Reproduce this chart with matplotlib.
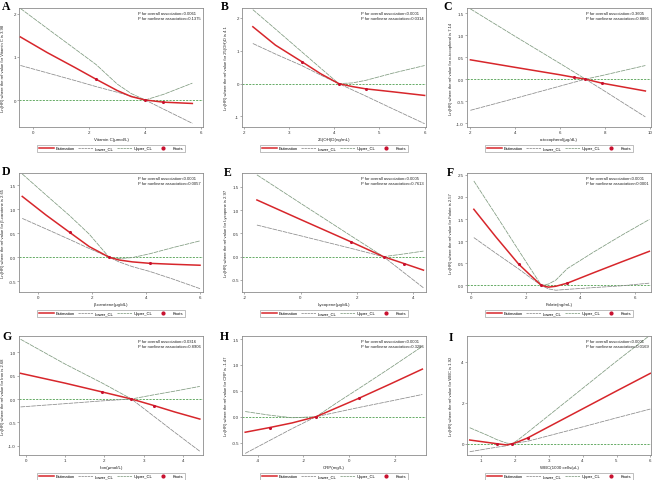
import matplotlib
matplotlib.use("Agg")
from matplotlib import pyplot as plt
from matplotlib.lines import Line2D

plt.rcParams['font.family'] = ['Liberation Sans', 'DejaVu Sans']
plt.rcParams['axes.unicode_minus'] = False

# colours used by every panel
EST_COLOR = "#d7262b"
KNOT_COLOR = "#c8102e"
LOW_COLOR = "#8a8a8a"
UP_COLOR = "#7f9a7f"
REF_COLOR = "#4f9f4f"

# ---- A : Vitamin C ----
a_x = [-0.45, 0.5, 1.5, 2.25, 3.0, 3.5, 4.0, 4.65, 5.68]
a_est = [1.46, 1.10, 0.75, 0.48, 0.22, 0.08, 0.0, -0.05, -0.08]
a_low = [0.80, 0.63, 0.45, 0.31, 0.18, 0.09, 0.0, -0.21, -0.54]
a_up = [2.12, 1.66, 1.18, 0.82, 0.37, 0.15, 0.0, 0.13, 0.39]
a_knot_x = [2.25, 4.0, 4.65]
a_knot_y = [0.48, 0.0, -0.05]

# ---- B : 25(OH)D ----
b_x = [2.2, 2.7, 3.28, 3.7, 4.1, 4.4, 4.7, 5.3, 6.0]
b_est = [1.73, 1.17, 0.67, 0.30, 0.0, -0.09, -0.16, -0.25, -0.36]
b_low = [1.22, 0.90, 0.55, 0.26, 0.0, -0.19, -0.38, -0.77, -1.22]
b_up = [2.25, 1.66, 0.97, 0.47, 0.0, 0.02, 0.10, 0.32, 0.55]
b_knot_x = [3.28, 4.1, 4.7]
b_knot_y = [0.67, 0.0, -0.16]

# ---- C : alpha-tocopherol ----
c_x = [2.03, 4.0, 6.0, 6.64, 7.14, 7.86, 9.8]
c_est = [0.44, 0.27, 0.10, 0.04, 0.0, -0.09, -0.27]
c_low = [-0.71, -0.44, -0.16, -0.07, 0.0, -0.23, -0.86]
c_up = [1.60, 0.98, 0.36, 0.16, 0.0, 0.08, 0.31]
c_knot_x = [6.64, 7.14, 7.86]
c_knot_y = [0.04, 0.0, -0.09]

# ---- D : beta-carotene ----
d_x = [-0.58, 0.3, 1.17, 1.9, 2.63, 3.0, 3.5, 4.14, 5.0, 6.0]
d_est = [1.27, 0.88, 0.52, 0.22, 0.0, -0.06, -0.10, -0.13, -0.15, -0.17]
d_low = [0.81, 0.59, 0.37, 0.18, 0.0, -0.10, -0.20, -0.30, -0.46, -0.66]
d_up = [1.74, 1.30, 0.87, 0.48, 0.0, -0.03, -0.01, 0.07, 0.20, 0.34]
d_knot_x = [1.17, 2.63, 4.14]
d_knot_y = [0.52, 0.0, -0.13]

# ---- E : Lycopene ----
e_x = [-1.55, 0.0, 1.79, 2.95, 3.69, 4.37]
e_est = [1.22, 0.80, 0.32, 0.0, -0.15, -0.29]
e_low = [0.68, 0.45, 0.18, 0.0, -0.35, -0.67]
e_up = [1.76, 1.15, 0.45, 0.0, 0.06, 0.12]
e_knot_x = [1.79, 2.95, 3.69]
e_knot_y = [0.32, 0.0, -0.15]

# ---- F : Folate ----
f_x = [0.1, 0.9, 1.74, 2.2, 2.57, 2.83, 3.1, 3.52, 4.5, 5.5, 6.52]
f_est = [1.72, 1.10, 0.48, 0.21, 0.0, -0.04, -0.02, 0.05, 0.29, 0.53, 0.77]
f_low = [1.08, 0.73, 0.37, 0.16, 0.0, -0.08, -0.11, -0.09, -0.05, -0.01, 0.05]
f_up = [2.36, 1.60, 0.79, 0.35, 0.0, 0.03, 0.12, 0.38, 0.76, 1.13, 1.49]
f_knot_x = [1.74, 2.57, 3.52]
f_knot_y = [0.48, 0.0, 0.05]

# ---- G : Iron ----
g_x = [-0.13, 1.0, 1.95, 2.69, 3.26, 3.8, 4.43]
g_est = [0.55, 0.34, 0.15, 0.0, -0.14, -0.28, -0.43]
g_low = [-0.17, -0.10, -0.04, 0.0, -0.37, -0.72, -1.12]
g_up = [1.28, 0.75, 0.34, 0.0, 0.09, 0.17, 0.27]
g_knot_x = [1.95, 2.69, 3.26]
g_knot_y = [0.15, 0.0, -0.14]

# ---- H : CRP ----
h_x = [-4.56, -3.49, -2.5, -1.45, -0.5, 0.45, 1.8, 3.22]
h_est = [-0.30, -0.21, -0.12, 0.0, 0.18, 0.36, 0.63, 0.92]
h_low = [-0.71, -0.46, -0.23, 0.0, 0.09, 0.18, 0.30, 0.43]
h_up = [0.10, 0.03, -0.02, 0.0, 0.28, 0.55, 0.94, 1.36]
h_knot_x = [-3.49, -1.45, 0.45]
h_knot_y = [-0.21, 0.0, 0.36]

# ---- I : WBC ----
i_x = [0.66, 1.2, 1.46, 1.75, 1.92, 2.1, 2.37, 3.0, 4.0, 5.0, 6.0]
i_est = [0.18, 0.06, 0.0, -0.06, 0.0, 0.10, 0.28, 0.83, 1.70, 2.57, 3.43]
i_low = [-0.39, -0.24, -0.17, -0.10, 0.0, 0.05, 0.12, 0.39, 0.82, 1.26, 1.69]
i_up = [0.78, 0.40, 0.20, 0.03, 0.0, 0.20, 0.55, 1.38, 2.70, 4.02, 5.30]
i_knot_x = [1.46, 1.92, 2.37]
i_knot_y = [0.0, 0.0, 0.28]

# axis labels and annotation texts
x_labels = ["Vitamin C(\u03bcmol/L)", "25(OH)D(ng/mL)", "\u03b1-tocopherol(\u03bcg/dL)",
            "\u03b2-carotene(\u03bcg/dL)", "Lycopene(\u03bcg/dL)", "Folate(ng/mL)",
            "Iron(\u03bcmol/L)", "CRP(mg/L)", "WBC(1000 cells/\u03bcL)"]
y_labels = ["Ln(HR) where the ref value for Vitamin C is 3.98",
            "Ln(HR) where the ref value for 25(OH)D is 4.1",
            "Ln(HR) where the ref value for \u03b1-tocopherol is 7.14",
            "Ln(HR) where the ref value for \u03b2-carotene is 2.65",
            "Ln(HR) where the ref value for Lycopene is 2.97",
            "Ln(HR) where the ref value for Folate is 2.57",
            "Ln(HR) where the ref value for Iron is 2.68",
            "Ln(HR) where the ref value for CRP is -1.47",
            "Ln(HR) where the ref value for WBC is 1.92"]
p_overall = ["=0.0061", "<0.0001", "=0.3605", "<0.0001", "=0.0005",
             "<0.0001", "=0.0316", "<0.0001", "<0.0001"]
p_nonlinear = ["=0.1375", "=0.0314", "=0.8866", "=0.0057", "=0.7613",
               "<0.0001", "=0.8906", "=0.3286", "=0.0169"]
panel_letters = ["A", "B", "C", "D", "E", "F", "G", "H", "I"]

# tick positions per panel
x_ticks = [[0, 2, 4, 6], [2, 3, 4, 5, 6], [2, 4, 6, 8, 10],
           [0, 2, 4, 6], [-2, 0, 2, 4], [0, 2, 4, 6],
           [0, 1, 2, 3, 4], [-4, -2, 0, 2], [1, 2, 3, 4, 5, 6]]
y_ticks = [[0, 1, 2], [-1, 0, 1, 2], [-1.0, -0.5, 0.0, 0.5, 1.0, 1.5],
           [-0.5, 0.0, 0.5, 1.0, 1.5], [-0.5, 0.0, 0.5, 1.0, 1.5],
           [0.0, 0.5, 1.0, 1.5, 2.0, 2.5], [-1.0, -0.5, 0.0, 0.5, 1.0],
           [-0.5, 0.0, 0.5, 1.0, 1.5], [0, 2, 4]]
y_decimals = [0, 0, 1, 1, 1, 1, 1, 1, 0]

# layout (pixels of the 653x481 canvas)
FIG_W, FIG_H = 653, 481
AX_LEFT = [19, 242, 467]
AX_WIDTH = 184
AX_TOP = [9, 174, 337]
AX_HEIGHT = 119
X_LIMITS = [(-0.5, 6.06), (1.96, 6.03), (1.88, 10.05), (-0.70, 6.11), (-2.08, 4.46),
            (-0.15, 6.58), (-0.17, 4.51), (-4.7, 3.38), (0.58, 6.02)]
Y_LIMITS = [(-0.625, 2.13), (-1.32, 2.3), (-1.09, 1.62), (-0.73, 1.76), (-0.76, 1.8),
            (-0.15, 2.54), (-1.2, 1.35), (-0.74, 1.56), (-0.55, 5.25)]
LETTER_POS = [(2, 1), (221, 1), (443, 1), (2, 166), (224, 167), (447, 167),
              (2, 331), (220, 331), (449, 332)]

curves = [
    (a_x, a_est, a_low, a_up, a_knot_x, a_knot_y),
    (b_x, b_est, b_low, b_up, b_knot_x, b_knot_y),
    (c_x, c_est, c_low, c_up, c_knot_x, c_knot_y),
    (d_x, d_est, d_low, d_up, d_knot_x, d_knot_y),
    (e_x, e_est, e_low, e_up, e_knot_x, e_knot_y),
    (f_x, f_est, f_low, f_up, f_knot_x, f_knot_y),
    (g_x, g_est, g_low, g_up, g_knot_x, g_knot_y),
    (h_x, h_est, h_low, h_up, h_knot_x, h_knot_y),
    (i_x, i_est, i_low, i_up, i_knot_x, i_knot_y),
]


def drawPanel(fig, idx):
    """
    Draw one restricted cubic spline panel of the 3x3 grid

    Parameters
    --------------------------------------------------------------------------------
        fig : matplotlib Figure
            The figure to draw into
        idx : int
            Panel number 0..8 (row major)
    """
    row, col = divmod(idx, 3)
    left = AX_LEFT[col] / FIG_W
    bottom = 1 - (AX_TOP[row] + AX_HEIGHT) / FIG_H
    ax = fig.add_axes([left, bottom, AX_WIDTH / FIG_W, AX_HEIGHT / FIG_H])

    x, est, low, up, kx, ky = curves[idx]

    # reference line at Ln(HR)=0
    ax.axhline(0, color=REF_COLOR, lw=0.6, ls=(0, (2.5, 1.5)), zorder=1)

    # confidence limits and the estimate
    ax.plot(x, low, color=LOW_COLOR, lw=0.55, ls=(0, (6, 1)), zorder=2)
    ax.plot(x, up, color=UP_COLOR, lw=0.55, ls=(0, (6, 1)), zorder=2)
    ax.plot(x, est, color=EST_COLOR, lw=1.1, zorder=3)
    ax.scatter(kx, ky, s=5, color=KNOT_COLOR, zorder=4, linewidths=0)

    ax.set_xlim(X_LIMITS[idx])
    ax.set_ylim(Y_LIMITS[idx])
    ax.set_xticks(x_ticks[idx])
    ax.set_yticks(y_ticks[idx])
    fmt = "{:.%df}" % y_decimals[idx]
    ax.set_yticklabels([fmt.format(v) for v in y_ticks[idx]])

    for spine in ax.spines.values():
        spine.set_color("#8c8c8c")
        spine.set_linewidth(0.6)
    ax.tick_params(length=1.5, width=0.5, color="#8c8c8c", pad=0.8,
                   labelsize=3.2, labelcolor="#333333")

    ax.set_xlabel(x_labels[idx], fontsize=3.2, color="#222222")
    ax.set_ylabel(y_labels[idx], fontsize=3.0, color="#222222")
    ax.xaxis.set_label_coords(0.5, -0.08)
    ax.yaxis.set_label_coords(-0.075, 0.5)

    # p-values, top right
    ax.text(0.645, 0.975, "P for overall association" + p_overall[idx] +
            "\nP for nonlinear association" + p_nonlinear[idx],
            transform=ax.transAxes, ha="left", va="top", fontsize=3.0,
            linespacing=1.25, color="#222222")

    # legend box under the axes
    handles = [Line2D([], [], color=EST_COLOR, lw=1.1),
               Line2D([], [], color=LOW_COLOR, lw=0.55, ls=(0, (3, 1))),
               Line2D([], [], color=UP_COLOR, lw=0.55, ls=(0, (3, 1))),
               Line2D([], [], color=KNOT_COLOR, marker="o", ls="none", markersize=2)]
    leg = ax.legend(handles, ["Estimation", "Lower_CL", "Upper_CL", "Knots"],
                    loc="center", bbox_to_anchor=(0.5, -0.18), ncol=4,
                    fontsize=3.0, frameon=True, fancybox=False, handlelength=3.6,
                    handletextpad=0.5, columnspacing=0.7, borderpad=0.3,
                    borderaxespad=0)
    leg.get_frame().set_edgecolor("#8c8c8c")
    leg.get_frame().set_linewidth(0.5)

    # panel letter
    lx, ly = LETTER_POS[idx]
    fig.text(lx / FIG_W, 1 - ly / FIG_H, panel_letters[idx], ha="left", va="top",
             fontsize=8.5, fontweight="bold", family="Liberation Serif")
    return ax


fig = plt.figure(figsize=(FIG_W / 100, FIG_H / 100), dpi=100)
for k in range(9):
    drawPanel(fig, k)

fig.savefig("out.png", dpi=100)
